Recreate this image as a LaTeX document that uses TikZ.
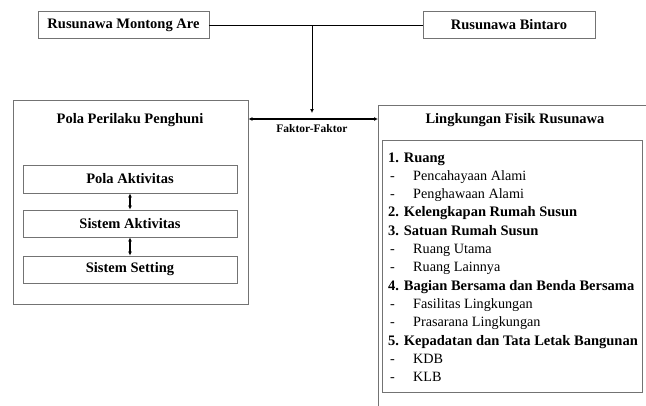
\documentclass[tikz,border=0pt]{standalone}
\usepackage{fontspec}
\setmainfont{Liberation Serif}
\usetikzlibrary{arrows.meta}

\tikzset{
  kotak/.style={draw=black!55, line width=0.9pt, inner sep=0pt, minimum height=27pt,
    font=\bfseries\fontsize{14.5}{16}\selectfont},
  judul/.style={font=\bfseries\fontsize{14.5}{16}\selectfont},
  butir/.style={anchor=base west, inner sep=0pt, font=\fontsize{14.2}{16}\selectfont},
  panah/.style={line width=1.1pt, {Latex[length=4pt,width=4pt]}-{Latex[length=4pt,width=4pt]}},
}

\begin{document}
\begin{tikzpicture}[x=1pt,y=-1pt]
  \useasboundingbox (0,0) rectangle (646,405);

  % dua rusunawa
  \node[kotak, minimum width=171pt] (montong) at (123.5,25) {Rusunawa Montong Are};
  \node[kotak, minimum width=172pt] (bintaro) at (509,25) {Rusunawa Bintaro};
  \draw[line width=1pt] (montong) -- (bintaro);
  \coordinate (simpang) at (312,25);
  \coordinate (tengah) at (312,119);
  \coordinate (ujung) at (312,113);

  % pola perilaku penghuni
  \node[kotak, minimum width=235pt, minimum height=204pt] (pola) at (130.5,202) {};
  \node[judul] (polajudul) at (130,120) {Pola Perilaku Penghuni};
  \node[kotak, minimum width=214pt, minimum height=28pt] (aktivitas) at (130,179) {Pola Aktivitas};
  \node[kotak, minimum width=214pt, minimum height=27pt] (sistem) at (130,223.5) {Sistem Aktivitas};
  \node[kotak, minimum width=214pt, minimum height=27pt] (setting) at (130,269.5) {Sistem Setting};
  \draw[panah] (aktivitas) -- (sistem);
  \draw[panah] (sistem) -- (setting);

  % lingkungan fisik rusunawa
  \node[kotak, anchor=north west, minimum width=285pt, minimum height=315pt] (fisik) at (378,105) {};
  \node[judul] (fisikjudul) at (515,120) {Lingkungan Fisik Rusunawa};
  \node[kotak, anchor=north west, minimum width=260pt, minimum height=252pt] (daftar) at (382,140) {};
  \foreach \baris/\teks in {0/1. Ruang, 3/2. Kelengkapan Rumah Susun, 4/3. Satuan Rumah Susun,
      7/4. Bagian Bersama dan Benda Bersama, 10/5. Kepadatan dan Tata Letak Bangunan}
    \node[butir, font=\bfseries\fontsize{14.5}{16}\selectfont] at (388,{162+18.3*\baris}) {\teks};
  \foreach \baris/\teks in {1/Pencahayaan Alami, 2/Penghawaan Alami, 5/Ruang Utama, 6/Ruang Lainnya,
      8/Fasilitas Lingkungan, 9/Prasarana Lingkungan, 11/KDB, 12/KLB}
  {
    \node[butir] at (390,{162+18.3*\baris}) {-};
    \node[butir] at (413,{162+18.3*\baris}) {\teks};
  }

  % faktor-faktor
  \draw[line width=1pt, -{Latex[length=4pt,width=4pt]}] (simpang) -- (ujung);
  \draw[panah] (pola.east |- tengah) -- (fisik.west |- tengah);
  \node[font=\bfseries\fontsize{11.5}{13}\selectfont] (faktor) at (312,129) {Faktor-Faktor};
\end{tikzpicture}
\end{document}
